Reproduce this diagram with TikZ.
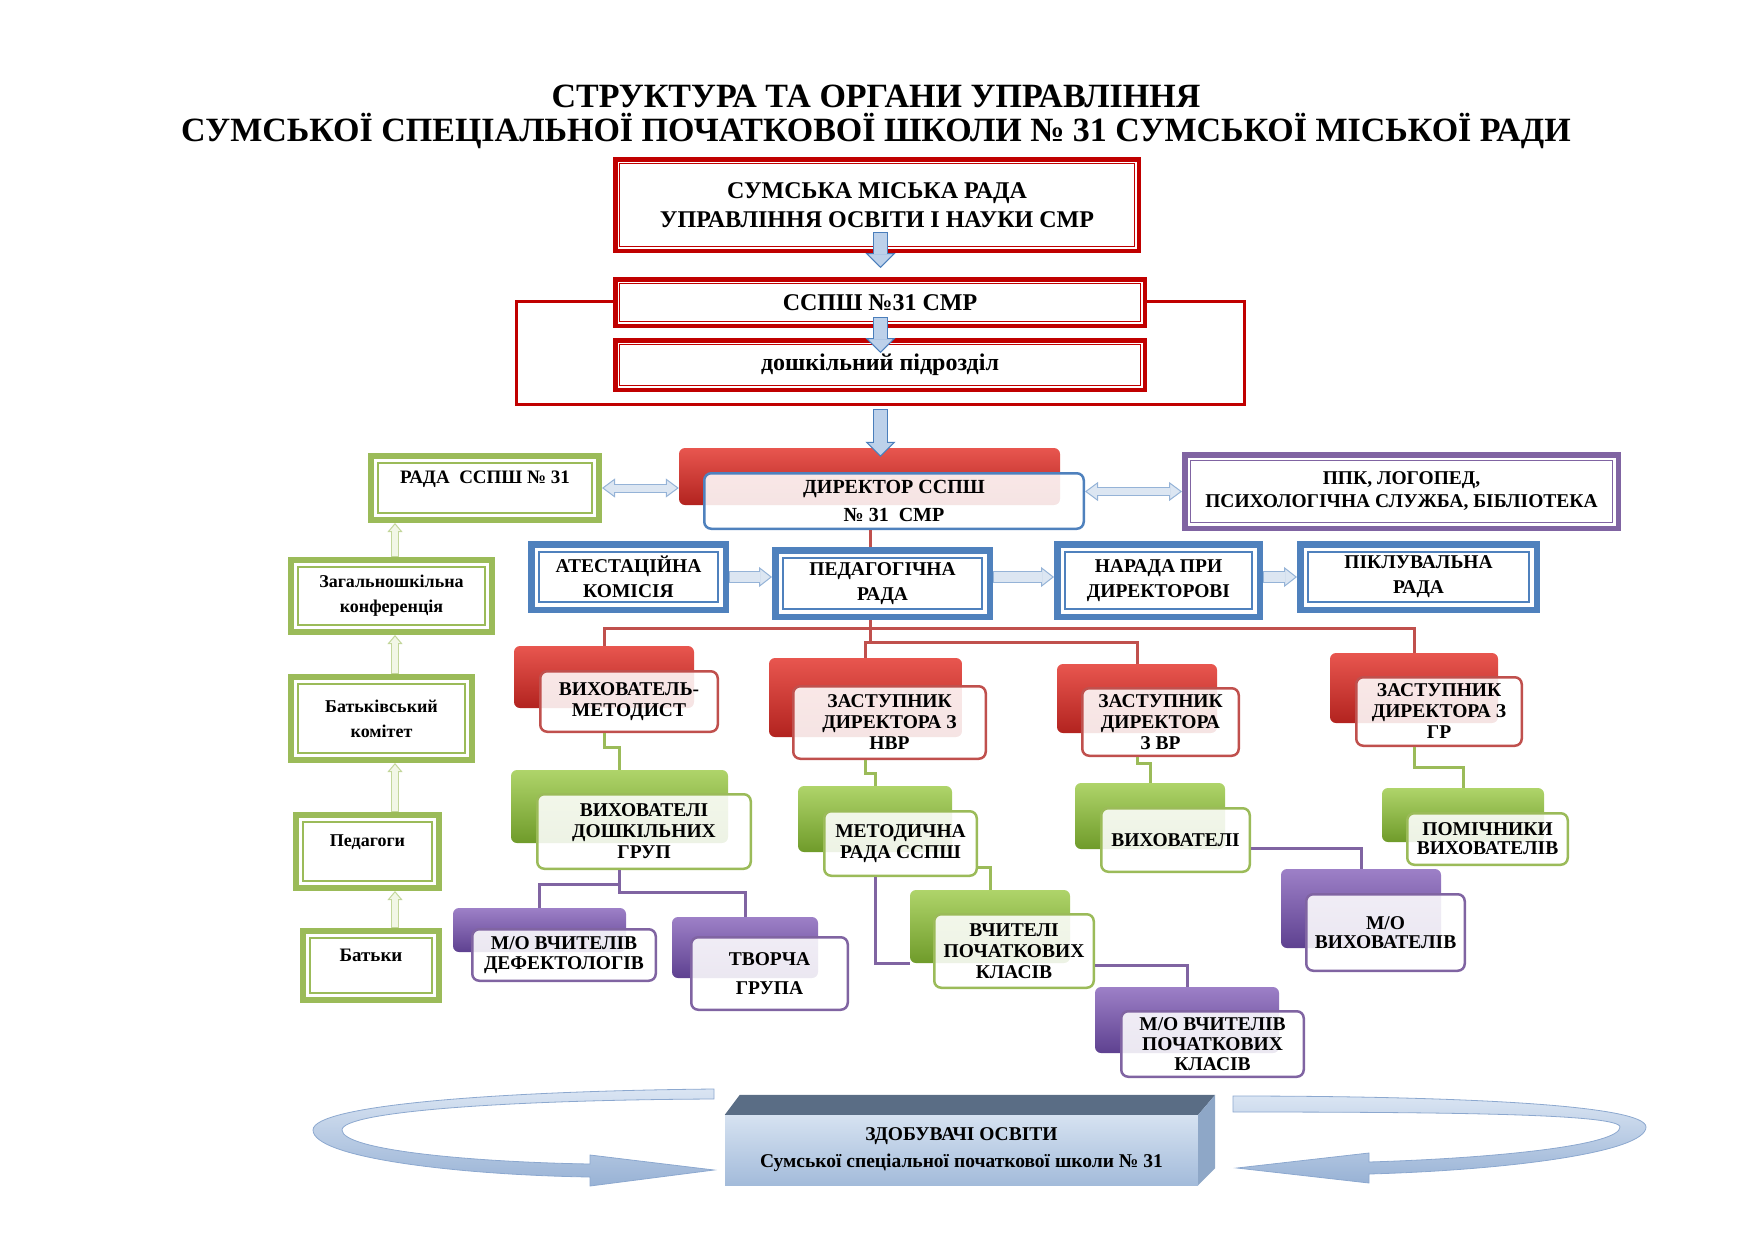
\documentclass[tikz,border=0pt]{standalone}
\usepackage{fontspec}
\setmainfont{Liberation Serif}
\usetikzlibrary{arrows.meta, positioning}

\definecolor{framered}{HTML}{C00000}
\definecolor{frameblue}{HTML}{4F81BD}
\definecolor{framegreen}{HTML}{9BBB59}
\definecolor{framepurple}{HTML}{8064A2}
\definecolor{linered}{HTML}{C0504D}
\definecolor{linegreen}{HTML}{9BBB59}
\definecolor{linepurple}{HTML}{8064A2}
\definecolor{redtop}{HTML}{E8564F}
\definecolor{redbot}{HTML}{B2231F}
\definecolor{greentop}{HTML}{AFD46A}
\definecolor{greenbot}{HTML}{6F9B2A}
\definecolor{purpletop}{HTML}{9D80C7}
\definecolor{purplebot}{HTML}{5E4190}
\definecolor{arrowedge}{HTML}{4A7EBB}
\definecolor{arrowfill}{HTML}{BDD1EA}
\definecolor{rowedge}{HTML}{95B3D7}
\definecolor{rowfill}{HTML}{DCE6F2}
\definecolor{upedge}{HTML}{C3D69B}
\definecolor{upfill}{HTML}{F2F7E6}
\definecolor{facefront}{HTML}{D6E2F1}
\definecolor{facefrontdark}{HTML}{A3BBDA}
\definecolor{facetop}{HTML}{5A6D85}
\definecolor{faceside}{HTML}{8EA7C7}
\definecolor{ribbonlight}{HTML}{DAE5F3}
\definecolor{ribbondark}{HTML}{98B2D5}
\definecolor{ribbonedge}{HTML}{8CA8CF}

\tikzset{
  redframe/.style={draw=framered, line width=4.5pt, fill=white, inner sep=0pt, align=center, font=\fontsize{24}{29}\selectfont\bfseries},
  blueframe/.style={draw=frameblue, line width=6.5pt, fill=white, inner sep=0pt, align=center, font=\fontsize{19.5}{25}\selectfont\bfseries},
  greenframe/.style={draw=framegreen, line width=6pt, fill=white, inner sep=0pt, align=center, font=\fontsize{18}{25}\selectfont\bfseries},
  purpleframe/.style={draw=framepurple, line width=5.5pt, fill=white, inner sep=0pt, align=center, font=\fontsize{19.5}{23}\selectfont\bfseries},
  backbox/.style={rounded corners=6pt, top color=#1top, bottom color=#1bot, inner sep=0pt},
  frontbox/.style={draw=#1, line width=2.5pt, rounded corners=7pt, fill=white, fill opacity=0.88, text opacity=1, inner sep=0pt, align=center, font=\fontsize{19.5}{21}\selectfont\bfseries},
  redline/.style={draw=linered, line width=3pt},
  greenline/.style={draw=linegreen, line width=3pt},
  purpleline/.style={draw=linepurple, line width=3pt},
  barrow/.style={draw=arrowedge, line width=15pt, -{Triangle[length=15pt, width=30pt, line width=1pt, fill=arrowfill]}, postaction={draw=arrowfill, line width=13pt, -, shorten >=14pt, shorten <=1pt}},
  rowarrow/.style={draw=rowedge, line width=12pt, -{Triangle[length=13pt, width=20pt, line width=1pt, fill=rowfill]}, postaction={draw=rowfill, line width=10pt, -, shorten >=12pt, shorten <=1pt}},
  dblarrow/.style={draw=rowedge, line width=9pt, {Triangle[length=13pt, width=19pt, line width=1pt, fill=rowfill]}-{Triangle[length=13pt, width=19pt, line width=1pt, fill=rowfill]}, postaction={draw=rowfill, line width=7pt, -, shorten >=12pt, shorten <=12pt}},
  uparrow/.style={draw=upedge, line width=8pt, -{Triangle[length=9pt, width=15pt, line width=1pt, fill=upfill]}, postaction={draw=upfill, line width=6pt, -, shorten >=8pt, shorten <=1pt}},
  ribbon/.style={draw=ribbonedge, line width=0.8pt, top color=ribbonlight, bottom color=ribbondark},
}

\begin{document}
\begin{tikzpicture}[x=1pt, y=-1pt]
  \useasboundingbox (0,0) rectangle (1754,1240);

  % title
  \node[font=\fontsize{34}{34}\selectfont\bfseries, align=center] (title) at (876,117) {СТРУКТУРА ТА ОРГАНИ УПРАВЛІННЯ\\СУМСЬКОЇ СПЕЦІАЛЬНОЇ ПОЧАТКОВОЇ ШКОЛИ № 31 СУМСЬКОЇ МІСЬКОЇ РАДИ};

  % top part
  \node[redframe, minimum width=523.5pt, minimum height=91.5pt] (smr) at (877,205) {СУМСЬКА МІСЬКА РАДА\\УПРАВЛІННЯ ОСВІТИ І НАУКИ СМР};
  \node[draw=framered, line width=3pt, minimum width=728pt, minimum height=103pt] (frame) at (880.5,353) {};
  \node[redframe, minimum width=529.5pt, minimum height=46.5pt] (sspsh) at (880,302.5) {ССПШ №31 СМР};
  \node[redframe, minimum width=529.5pt, minimum height=49.5pt] (dosh) at (880,365) {дошкільний підрозділ};

  % director
  \node[backbox=red, minimum width=381pt, minimum height=57pt] (dirb) at (869.5,476.5) {};
  \node[frontbox=frameblue, minimum width=379.5pt, minimum height=55.5pt, font=\fontsize{20}{28}\selectfont\bfseries] (dirf) at (894,501) {ДИРЕКТОР ССПШ\\№ 31~~СМР};
  \node[greenframe, minimum width=228pt, minimum height=64pt, font=\fontsize{19}{22}\selectfont\bfseries] (rada) at (485,488) {РАДА\enspace ССПШ № 31\\~};
  \node[purpleframe, minimum width=433.5pt, minimum height=73.5pt] (ppk) at (1401.5,491.5) {ППК, ЛОГОПЕД,\\ПСИХОЛОГІЧНА СЛУЖБА, БІБЛІОТЕКА};

  % councils
  \node[blueframe, minimum width=194.5pt, minimum height=65.5pt] (atk) at (628.5,577) {АТЕСТАЦІЙНА\\КОМІСІЯ};
  \node[blueframe, minimum width=214.5pt, minimum height=66.5pt] (pedr) at (882.5,583.5) {ПЕДАГОГІЧНА\\РАДА};
  \node[blueframe, minimum width=202.5pt, minimum height=72.5pt] (nar) at (1158.5,580.5) {НАРАДА ПРИ\\ДИРЕКТОРОВІ};
  \node[blueframe, minimum width=236.5pt, minimum height=65.5pt] (pikl) at (1418.5,577) {ПІКЛУВАЛЬНА\\РАДА};

  % left column
  \node[greenframe, minimum width=201pt, minimum height=72pt] (zag) at (391.5,596) {Загальношкільна\\конференція};
  \node[greenframe, minimum width=181pt, minimum height=83pt] (bat) at (381.5,718.5) {Батьківський\\комітет};
  \node[greenframe, minimum width=143pt, minimum height=73pt, font=\fontsize{18}{22}\selectfont\bfseries] (pedg) at (367.5,851.5) {Педагоги\\~};
  \node[greenframe, minimum width=136pt, minimum height=69pt, font=\fontsize{19}{20}\selectfont\bfseries] (batky) at (371,965.5) {Батьки\\~};

  % deputies
  \node[backbox=red, minimum width=180pt, minimum height=62pt] (metb) at (604,677) {};
  \node[frontbox=linered, minimum width=177.5pt, minimum height=60.5pt] (metf) at (629,701.5) {ВИХОВАТЕЛЬ-\\МЕТОДИСТ};
  \node[backbox=red, minimum width=193pt, minimum height=79pt] (nvrb) at (865.5,697.5) {};
  \node[frontbox=linered, minimum width=192.5pt, minimum height=72.5pt] (nvrf) at (889.5,722.5) {ЗАСТУПНИК\\ДИРЕКТОРА З\\НВР};
  \node[backbox=red, minimum width=160pt, minimum height=69pt] (vrb) at (1137,698.5) {};
  \node[frontbox=linered, minimum width=156.5pt, minimum height=67.5pt] (vrf) at (1160.5,722) {ЗАСТУПНИК\\ДИРЕКТОРА\\З ВР};
  \node[backbox=red, minimum width=168pt, minimum height=70pt] (grb) at (1414,688) {};
  \node[frontbox=linered, minimum width=165.5pt, minimum height=68.5pt] (grf) at (1439,711.5) {ЗАСТУПНИК\\ДИРЕКТОРА З\\ГР};

  % green level
  \node[backbox=green, minimum width=217pt, minimum height=73pt] (vdb) at (619.5,806.5) {};
  \node[frontbox=framegreen, minimum width=213.5pt, minimum height=74.5pt] (vdf) at (644,831.5) {ВИХОВАТЕЛІ\\ДОШКІЛЬНИХ\\ГРУП};
  \node[backbox=green, minimum width=154pt, minimum height=66pt] (mrb) at (875,819) {};
  \node[frontbox=framegreen, minimum width=152.5pt, minimum height=64.5pt] (mrf) at (900.5,843.5) {МЕТОДИЧНА\\РАДА ССПШ};
  \node[backbox=green, minimum width=160pt, minimum height=73pt] (vpb) at (990,926.5) {};
  \node[frontbox=framegreen, minimum width=159.5pt, minimum height=73.5pt] (vpf) at (1014,951) {ВЧИТЕЛІ\\ПОЧАТКОВИХ\\КЛАСІВ};
  \node[backbox=green, minimum width=150pt, minimum height=66pt] (vb) at (1150,816) {};
  \node[frontbox=framegreen, minimum width=148.5pt, minimum height=63.5pt] (vf) at (1175.5,840) {ВИХОВАТЕЛІ};
  \node[backbox=green, minimum width=162pt, minimum height=54pt] (pomb) at (1463,815) {};
  \node[frontbox=framegreen, minimum width=160.5pt, minimum height=51.5pt, font=\fontsize{19.5}{19}\selectfont\bfseries] (pomf) at (1487.5,839) {ПОМІЧНИКИ\\ВИХОВАТЕЛІВ};

  % purple level
  \node[backbox=purple, minimum width=173pt, minimum height=44pt] (defb) at (539.5,930) {};
  \node[frontbox=framepurple, minimum width=183.5pt, minimum height=51.5pt, font=\fontsize{19.5}{20}\selectfont\bfseries] (deff) at (564,955) {М/О ВЧИТЕЛІВ\\ДЕФЕКТОЛОГІВ};
  \node[backbox=purple, minimum width=146pt, minimum height=61pt] (tvb) at (745,947.5) {};
  \node[frontbox=framepurple, minimum width=156.5pt, minimum height=72.5pt, font=\fontsize{19.5}{29}\selectfont\bfseries] (tvf) at (769.5,973.5) {ТВОРЧА\\ГРУПА};
  \node[backbox=purple, minimum width=160pt, minimum height=79pt] (mvb) at (1361,908.5) {};
  \node[frontbox=framepurple, minimum width=158.5pt, minimum height=76.5pt, font=\fontsize{19.5}{19}\selectfont\bfseries] (mvf) at (1385.5,932.5) {М/О\\ВИХОВАТЕЛІВ};
  \node[backbox=purple, minimum width=184pt, minimum height=66pt] (mpb) at (1187,1020) {};
  \node[frontbox=framepurple, minimum width=182.5pt, minimum height=65.5pt, font=\fontsize{19.5}{20}\selectfont\bfseries] (mpf) at (1212.5,1044) {М/О ВЧИТЕЛІВ\\ПОЧАТКОВИХ\\КЛАСІВ};

  % inner lines of the framed boxes
  \foreach \n/\c/\d in {smr/framered/6.5, sspsh/framered/6.5, dosh/framered/6.5,
      atk/frameblue/11, pedr/frameblue/11, nar/frameblue/11, pikl/frameblue/11,
      rada/framegreen/10, zag/framegreen/10, bat/framegreen/10, pedg/framegreen/10, batky/framegreen/10,
      ppk/framepurple/8.5}
    \draw[\c, line width=1.2pt] ([shift={(\d pt,\d pt)}]\n.south west) rectangle ([shift={(-\d pt,-\d pt)}]\n.north east);

  % block arrows
  \draw[barrow] ([yshift=21pt]frame.south |- smr.south) -- ([yshift=9pt]frame.south |- sspsh.north);
  \draw[barrow] ([yshift=11pt]frame.south |- sspsh.south) -- ([yshift=-15pt]frame.south |- dosh.north);
  \draw[barrow] ([yshift=-3pt]frame.south) -- ([yshift=-9pt]frame.south |- dirb.north);
  \draw[dblarrow] (rada.east) -- (rada.east -| dirb.west);
  \draw[dblarrow] (ppk.west -| dirf.east) -- (ppk.west);
  \draw[rowarrow] (atk.east) -- (atk.east -| pedr.west);
  \draw[rowarrow] (pedr.east |- atk.east) -- (atk.east -| nar.west);
  \draw[rowarrow] (nar.east |- atk.east) -- (atk.east -| pikl.west);

  \coordinate (lc) at (395,0);
  \draw[uparrow] (zag.north -| lc) -- (rada.south -| lc);
  \draw[uparrow] (bat.north -| lc) -- (zag.south -| lc);
  \draw[uparrow] (pedg.north -| lc) -- (bat.south -| lc);
  \draw[uparrow] (batky.north -| lc) -- (pedg.south -| lc);

  % tree lines
  \coordinate (busA) at (870,628);
  \coordinate (busB) at (870,642);
  \draw[redline] (dirf.south -| busA) -- (pedr.north -| busA);
  \draw[redline] (pedr.south -| busA) -- (busB);
  \draw[redline] (metb.north) |- (busA) -| (grb.north);
  \draw[redline] (busB) -| (vrb.north);
  \draw[redline] (busB) -| (nvrb.north);

  \draw[greenline] (metb.north |- metf.south) -- ++(0,14) -| (vdb.north);
  \draw[greenline] (nvrb.north |- nvrf.south) -- ++(0,13) -| (mrb.north);
  \draw[greenline] (vrb.north |- vrf.south) -- ++(0,6) -| (vb.north);
  \draw[greenline] (grb.north |- grf.south) -- ++(0,20) -| (pomb.north);
  \draw[greenline] ([yshift=-24pt]mrf.east) -| (vpb.north);

  \draw[purpleline] (vdb.north |- vdf.south) -- ++(0,14) -| (defb.north);
  \draw[purpleline] (vdb.north |- vdf.south) -- ++(0,22) -| (tvb.north);
  \draw[purpleline] (mrb.north |- mrf.south) |- (vpb.south west);
  \draw[purpleline] ([yshift=-14pt]vpf.east) -| (mpb.north);
  \draw[purpleline] ([yshift=-8pt]vf.east) -| (mvb.north);

  % learners
  \path[ribbon] (714,1089) .. controls (500,1091) and (313,1105) .. (313,1130) .. controls (313,1158) and (460,1175) .. (590,1177) -- (590,1186) -- (714,1170) -- (590,1155) -- (590,1164) .. controls (470,1162) and (342,1150) .. (342,1130) .. controls (342,1112) and (500,1100) .. (714,1099) -- cycle;
  \path[ribbon] (1233,1096) .. controls (1460,1096) and (1646,1105) .. (1646,1127) .. controls (1646,1152) and (1510,1170) .. (1369,1174) -- (1369,1183) -- (1237,1168) -- (1369,1153) -- (1369,1162) .. controls (1500,1158) and (1620,1145) .. (1620,1127) .. controls (1620,1114) and (1450,1112) .. (1233,1112) -- cycle;
  \node[top color=facefront, bottom color=facefrontdark, minimum width=473pt, minimum height=70pt, inner sep=0pt, align=center, font=\fontsize{19.5}{27}\selectfont\bfseries] (zdob) at (961.5,1150) {ЗДОБУВАЧІ ОСВІТИ\\Сумської спеціальної початкової школи № 31};
  \fill[facetop] (zdob.north west) -- ++(15,-20) -- ([shift={(17,-20)}]zdob.north east) -- (zdob.north east) -- cycle;
  \fill[faceside] (zdob.north east) -- ++(17,-20) -- ([shift={(17,-17)}]zdob.south east) -- (zdob.south east) -- cycle;
\end{tikzpicture}
\end{document}
